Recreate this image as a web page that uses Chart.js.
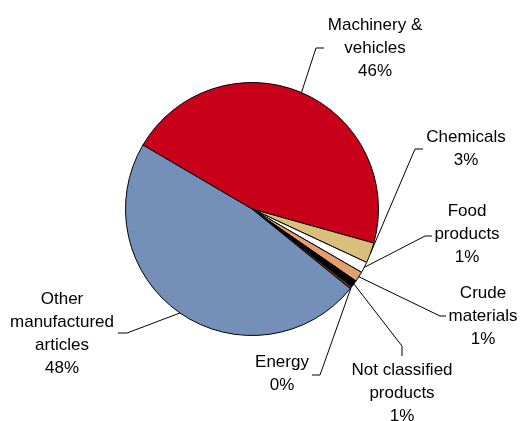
<!DOCTYPE html>
<html>
<head>
<meta charset="utf-8">
<script src="https://cdn.jsdelivr.net/npm/chart.js@4/dist/chart.umd.min.js"></script>
<style>
  html, body { margin: 0; padding: 0; background: #fff; }
  canvas { display: block; }
</style>
</head>
<body>
<canvas id="pieChart" width="522" height="421"></canvas>
<script>
// Export structure by product group (shares, %)
const categories = ['Machinery & vehicles', 'Chemicals', 'Food products', 'Crude materials',
                    'Not classified products', 'Energy', 'Other manufactured articles'];
const shares = [45.9, 2.6, 1.4, 1.3, 0.9, 0.3, 47.6];
const sliceColors = ['#C8001A', '#D9BE7C', '#FFFFFF', '#E2A070', '#000000', '#6B3A1A', '#7590B8'];

// label text lines (the % line is added from the data)
const labelLines = [
    ['Machinery &', 'vehicles'],
    ['Chemicals'],
    ['Food', 'products'],
    ['Crude', 'materials'],
    ['Not classified', 'products'],
    ['Energy'],
    ['Other', 'manufactured', 'articles']
];

// where each label sits: text centre x, first line y, leader elbow and end
const labelPlaces = [
    { x: 375, y: 25,  elbow: [316, 48],  end: [324, 48] },
    { x: 466, y: 137, elbow: [415, 149], end: [423, 149] },
    { x: 467, y: 211, elbow: [425, 236], end: [432, 236] },
    { x: 483, y: 293, elbow: [440, 316], end: [446, 316] },
    { x: 402, y: 370, elbow: [402, 346], end: [402, 356] },
    { x: 282, y: 362, elbow: [320, 375], end: [312, 375] },
    { x: 62,  y: 299, elbow: [127, 333], end: [118, 333] }
];

const leaderLabels = {
    id: 'leaderLabels',
    afterDraw(chart) {
        const ctx = chart.ctx;
        const meta = chart.getDatasetMeta(0);
        const total = shares.reduce((a, b) => a + b, 0);
        ctx.save();
        ctx.font = '17px "Liberation Sans", Arial, sans-serif';
        ctx.fillStyle = '#000';
        ctx.textAlign = 'center';
        ctx.textBaseline = 'middle';
        meta.data.forEach((arc, i) => {
            const p = arc.getProps(['x', 'y', 'startAngle', 'endAngle', 'outerRadius'], true);
            const mid = (p.startAngle + p.endAngle) / 2;
            const sx = p.x + Math.cos(mid) * p.outerRadius;
            const sy = p.y + Math.sin(mid) * p.outerRadius;
            const place = labelPlaces[i];
            ctx.beginPath();
            ctx.strokeStyle = '#000';
            ctx.lineWidth = 1;
            ctx.moveTo(sx, sy);
            ctx.lineTo(place.elbow[0], place.elbow[1]);
            ctx.lineTo(place.end[0], place.end[1]);
            ctx.stroke();
            const lines = labelLines[i].concat([Math.round(shares[i] / total * 100) + '%']);
            lines.forEach((t, k) => ctx.fillText(t, place.x, place.y + k * 23));
        });
        ctx.restore();
    }
};

const pieCtx = document.getElementById('pieChart').getContext('2d');
const pieChart = new Chart(pieCtx, {
    type: 'pie',
    data: {
        labels: categories,
        datasets: [{
            data: shares,
            backgroundColor: sliceColors,
            borderColor: '#000',
            borderWidth: 1
        }]
    },
    options: {
        responsive: false,
        animation: false,
        rotation: -59.6,
        layout: { padding: { top: 82, bottom: 85, left: 125, right: 143 } },
        plugins: {
            legend: { display: false },
            tooltip: { enabled: false }
        }
    },
    plugins: [leaderLabels]
});
</script>
</body>
</html>
